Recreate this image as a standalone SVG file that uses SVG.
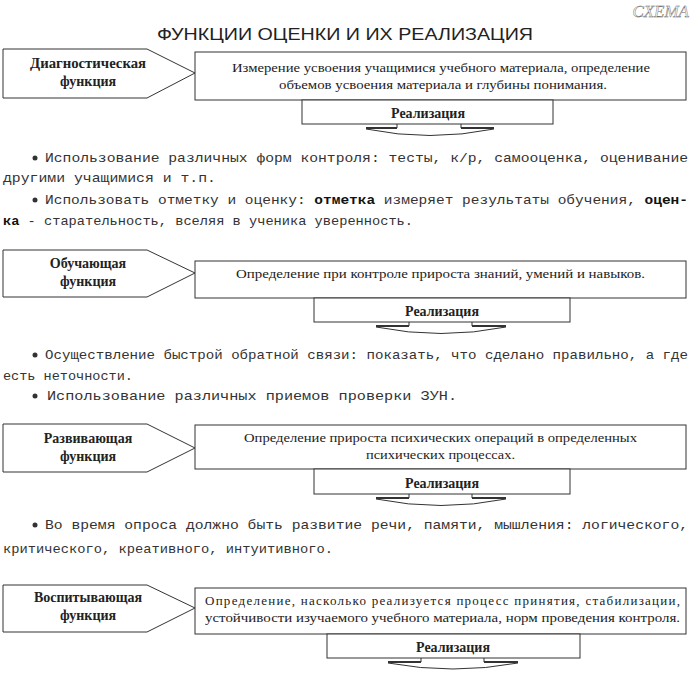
<svg xmlns="http://www.w3.org/2000/svg" width="692" height="673" viewBox="0 0 692 673">
<style>
.shape{fill:#fff;stroke:#333;stroke-width:1}
.wing{fill:none;stroke:#333;stroke-width:1}
.wingt{fill:none;stroke:#333;stroke-width:2}
.lbl{font-family:"Liberation Serif",serif;font-weight:bold;font-size:14px;fill:#222;text-anchor:middle}
.desc{font-family:"Liberation Serif",serif;font-size:13px;fill:#222}
.real{font-family:"Liberation Serif",serif;font-weight:bold;font-size:14px;fill:#222;text-anchor:middle}
.body{font-family:"Liberation Mono",monospace;font-size:13px;fill:#333}
.b{font-weight:bold;fill:#111}
</style>
<rect width="692" height="673" fill="#fff"/>
<text x="689" y="17" font-family="Liberation Serif,serif" font-style="italic" font-size="17" fill="#fff" stroke="#555" stroke-width="0.4" text-anchor="end">СХЕМА</text>
<text x="157" y="40" font-family="Liberation Sans,sans-serif" font-size="17" fill="#222" textLength="376" lengthAdjust="spacingAndGlyphs">ФУНКЦИИ ОЦЕНКИ И ИХ РЕАЛИЗАЦИЯ</text>

<g id="block1">
<polygon class="shape" points="3,49 147,49 195,73 147,98 3,98"/>
<text class="lbl" x="88" y="68" textLength="116" lengthAdjust="spacingAndGlyphs">Диагностическая</text>
<text class="lbl" x="88" y="86">функция</text>
<rect class="shape" x="195" y="52" width="491" height="48"/>
<text class="desc" x="232" y="72" textLength="418" lengthAdjust="spacingAndGlyphs">Измерение усвоения учащимися учебного материала, определение</text>
<text class="desc" x="279" y="89" textLength="328" lengthAdjust="spacingAndGlyphs">объемов усвоения материала и глубины понимания.</text>
</g>
<g id="real1">
<rect class="shape" x="302" y="100" width="251" height="24"/>
<text class="real" x="428" y="118">Реализация</text>
<path class="wing" d="M397,124 V128 M461,124 V128 M366,129 Q430,142 494,129"/>
<path class="wingt" d="M397,128 H366 M461,128 H494"/>
</g>
<g id="text1">
<circle cx="35" cy="158" r="2.5" fill="#333"/>
<text class="body" x="45" y="162" textLength="643" lengthAdjust="spacingAndGlyphs">Использование различных форм контроля: тесты, к/р, самооценка, оценивание</text>
<text class="body" x="3" y="182" textLength="213" lengthAdjust="spacingAndGlyphs">другими учащимися  и т.п.</text>
<circle cx="35" cy="200" r="2.5" fill="#333"/>
<text class="body" x="45" y="204" textLength="643" lengthAdjust="spacingAndGlyphs">Использовать отметку и оценку: <tspan class="b">отметка</tspan> измеряет результаты обучения, <tspan class="b">оцен-</tspan></text>
<text class="body" x="3" y="225" textLength="410" lengthAdjust="spacingAndGlyphs"><tspan class="b">ка</tspan> - старательность, вселяя в ученика уверенность.</text>
</g>

<g id="block2">
<polygon class="shape" points="3,250 147,250 195,273 147,297 3,297"/>
<text class="lbl" x="88" y="268">Обучающая</text>
<text class="lbl" x="88" y="286">функция</text>
<rect class="shape" x="195" y="261" width="491" height="37"/>
<text class="desc" x="236" y="278" textLength="409" lengthAdjust="spacingAndGlyphs">Определение  при контроле  прироста знаний, умений и навыков.</text>
</g>
<g id="real2">
<rect class="shape" x="314" y="298" width="256" height="24"/>
<text class="real" x="442" y="316">Реализация</text>
<path class="wing" d="M409,322 V326 M472,322 V326 M376,327 Q441,340 506,327"/>
<path class="wingt" d="M409,326 H376 M472,326 H506"/>
</g>
<g id="text2">
<circle cx="35" cy="355" r="2.5" fill="#333"/>
<text class="body" x="45" y="359" textLength="643" lengthAdjust="spacingAndGlyphs">Осуществление быстрой обратной связи: показать, что сделано правильно, а где</text>
<text class="body" x="3" y="380" textLength="130" lengthAdjust="spacingAndGlyphs">есть неточности.</text>
<circle cx="35" cy="396" r="2.5" fill="#333"/>
<text class="body" x="47" y="400" textLength="410" lengthAdjust="spacingAndGlyphs">Использование различных приемов  проверки ЗУН.</text>
</g>

<g id="block3">
<polygon class="shape" points="3,424 147,424 195,448 147,472 3,472"/>
<text class="lbl" x="88" y="443">Развивающая</text>
<text class="lbl" x="88" y="461">функция</text>
<rect class="shape" x="195" y="425" width="491" height="44"/>
<text class="desc" x="244" y="442" textLength="393" lengthAdjust="spacingAndGlyphs">Определение прироста психических операций в определенных</text>
<text class="desc" x="366" y="459" textLength="149" lengthAdjust="spacingAndGlyphs">психических процессах.</text>
</g>
<g id="real3">
<rect class="shape" x="314" y="469" width="256" height="25"/>
<text class="real" x="442" y="488">Реализация</text>
<path class="wing" d="M409,494 V498 M472,494 V498 M376,499 Q441,512 506,499"/>
<path class="wingt" d="M409,498 H376 M472,498 H506"/>
</g>
<g id="text3">
<circle cx="35" cy="525" r="2.5" fill="#333"/>
<text class="body" x="45" y="529" textLength="643" lengthAdjust="spacingAndGlyphs">Во время опроса должно быть развитие речи, памяти, мышления:  логического,</text>
<text class="body" x="3" y="553" textLength="330" lengthAdjust="spacingAndGlyphs">критического, креативного, интуитивного.</text>
</g>

<g id="block4">
<polygon class="shape" points="3,585 147,585 195,608 147,632 3,632"/>
<text class="lbl" x="88" y="602">Воспитывающая</text>
<text class="lbl" x="88" y="620">функция</text>
<rect class="shape" x="195" y="588" width="491" height="46"/>
<text class="desc" x="205" y="605" textLength="475" lengthAdjust="spacing">Определение,  насколько  реализуется  процесс  принятия,  стабилизации,</text>
<text class="desc" x="205" y="622" textLength="475" lengthAdjust="spacingAndGlyphs">устойчивости изучаемого учебного материала, норм проведения контроля.</text>
</g>
<g id="real4">
<rect class="shape" x="327" y="634" width="253" height="24"/>
<text class="real" x="453" y="652">Реализация</text>
<path class="wing" d="M421,658 V662 M484,658 V662 M388,663 Q453,675 518,663"/>
<path class="wingt" d="M421,662 H388 M484,662 H518"/>
</g>
</svg>
